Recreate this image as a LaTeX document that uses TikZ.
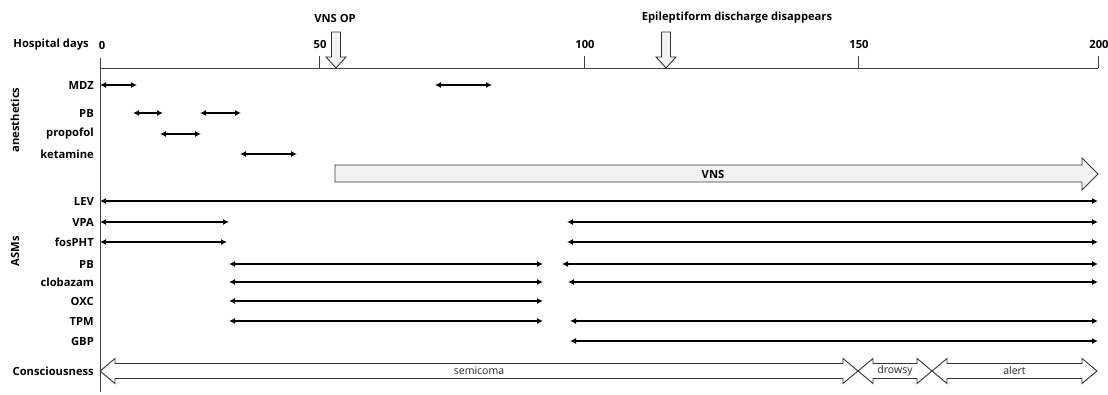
\documentclass[tikz,border=0pt]{standalone}
\usepackage{fontspec}
\setmainfont{Open Sans}
\usetikzlibrary{arrows.meta}
\begin{document}
\begin{tikzpicture}[x=1pt, y=-1pt, font=\fontsize{11.2}{13}\selectfont,
  lbl/.style={anchor=east, font=\fontsize{11.2}{13}\selectfont\bfseries, inner sep=0pt},
  bold/.style={font=\fontsize{11.2}{13}\selectfont\bfseries},
  med/.style={{Latex[length=6pt,width=6pt]}-{Latex[length=6pt,width=6pt]}, line width=1.7pt},
  axis/.style={gray!50!black, line width=0.9pt},
  block/.style={draw=gray!40!black, line width=0.9pt, line join=miter},
  ]
  \useasboundingbox (0,0) rectangle (1108,394);

  %%% time axis %%%
  \draw[axis] (100,68) -- (1098,68);
  \draw[axis] (100,58) -- (100,392);
  \foreach \tx/\tl in {319/50, 584/100, 858/150, 1098/200} {
    \draw[axis] (\tx,56) -- (\tx,68);
    \node[bold] (tick-\tl) at (\tx+1,44) {\tl};
  }
  \node[bold] (tick-0) at (102,45) {0};
  \node[lbl] (hdays) at (89,45) {Hospital days};

  %%% event markers %%%
  \foreach \ex/\en/\et/\tx in {336/vnsop/VNS OP/335, 666/epi/Epileptiform discharge disappears/737} {
    \draw[block, fill=gray!10] (\ex-4.5,32) -- (\ex+4.5,32) -- (\ex+4.5,57) -- (\ex+10,57)
      -- (\ex,68) -- (\ex-10,57) -- (\ex-4.5,57) -- cycle;
    \node[bold] (ev-\en) at (\tx,18) {\et};
  }

  %%% group labels %%%
  \node[rotate=90, bold] (grp-an) at (15,120) {anesthetics};
  \node[rotate=90, bold] (grp-asm) at (15,251) {ASMs};

  %%% row labels %%%
  \foreach \ry/\rn/\rl in {85/mdz/MDZ, 113/pba/PB, 134/prop/propofol, 154/ket/ketamine,
      201/lev/LEV, 222/vpa/VPA, 242/fos/fosPHT, 264/pbb/PB, 282/clb/clobazam,
      301/oxc/OXC, 321/tpm/TPM, 341/gbp/GBP, 371/cons/Consciousness}
    \node[lbl] (row-\rn) at (94,\ry) {\rl};

  %%% anesthetics %%%
  \foreach \xa/\xb/\ry in {100/137/85, 435/492/85, 133/163/113, 200/241/113,
      160/201/134, 240/297/154}
    \draw[med] (\xa,\ry) -- (\xb,\ry);

  %%% VNS %%%
  \draw[block, fill=gray!10] (335,165) -- (1082,165) -- (1082,158) -- (1098,174)
    -- (1082,190) -- (1082,182) -- (335,182) -- cycle;
  \node[bold] (vns) at (713,174) {VNS};

  %%% ASMs %%%
  \foreach \xa/\xb/\ry in {100/1098/201, 100/229/222, 567/1098/222, 100/227/242, 567/1098/242,
      229/543/264, 562/1098/264, 229/543/282, 568/1098/282, 229/543/301,
      229/543/321, 570/1098/321, 570/1098/341}
    \draw[med] (\xa,\ry) -- (\xb,\ry);

  %%% consciousness %%%
  \foreach \xa/\xb/\st in {100/858/semicoma, 858/932/drowsy, 932/1097/alert} {
    \draw[block, fill=white] (\xa,371) -- (\xa+15,358.5) -- (\xa+15,363.5) -- (\xb-15,363.5)
      -- (\xb-15,358.5) -- (\xb,371) -- (\xb-15,383.5) -- (\xb-15,378.5)
      -- (\xa+15,378.5) -- (\xa+15,383.5) -- cycle;
    \node[text=gray!30!black, font=\fontsize{10.5}{12}\selectfont] (st-\st) at ({(\xa+\xb)/2},370.5) {\st};
  }
\end{tikzpicture}
\end{document}
